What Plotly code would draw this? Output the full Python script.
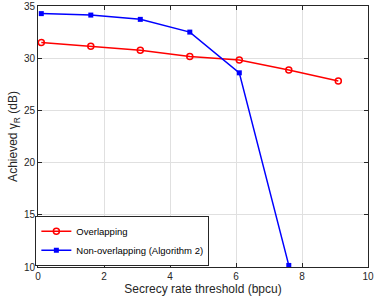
import plotly.graph_objects as go

x_thr = [0.1, 1.6, 3.1, 4.6, 6.1, 7.6, 9.1]
overlap = [31.5, 31.15, 30.77, 30.17, 29.82, 28.87, 27.82]
x_non = [0.1, 1.6, 3.1, 4.6, 6.1, 7.6]
non_overlap = [34.27, 34.13, 33.72, 32.5, 28.6, 10.15]

x_ticks = [0, 2, 4, 6, 8, 10]
y_ticks = [10, 15, 20, 25, 30, 35]

font = "Liberation Sans, Arial, sans-serif"
tc = "#262626"

fig = go.Figure()
fig.add_trace(go.Scatter(x=x_thr, y=overlap, mode="lines+markers", name="Overlapping",
                         line=dict(color="#ff0000", width=1.5),
                         marker=dict(symbol="circle-open", size=6, color="#ff0000", line=dict(width=1.5))))
fig.add_trace(go.Scatter(x=x_non, y=non_overlap, mode="lines+markers", name="Non-overlapping (Algorithm 2)",
                         line=dict(color="#0000ff", width=1.5),
                         marker=dict(symbol="square", size=5, color="#0000ff")))

axis_common = dict(showgrid=True, gridcolor="#e0e0e0", gridwidth=1, zeroline=False,
                   showline=True, linecolor=tc, linewidth=1, mirror="ticks", automargin=False,
                   ticks="inside", ticklen=4, tickcolor=tc, tickfont=dict(family=font, size=10, color=tc))

fig.update_layout(
    width=374, height=301,
    margin=dict(l=38, r=6, t=6, b=34),
    paper_bgcolor="white", plot_bgcolor="white",
    font=dict(family=font, size=10, color=tc),
    showlegend=True,
    legend=dict(x=-0.008, y=0.005, xanchor="left", yanchor="bottom",
                bgcolor="white", bordercolor=tc, borderwidth=1,
                font=dict(family=font, size=9.5, color="#000000"),
                tracegroupgap=0, itemwidth=30),
    xaxis=dict(range=[0, 10], tickvals=x_ticks, ticktext=[str(v) for v in x_ticks],
               title=dict(text="Secrecy rate threshold (bpcu)", font=dict(family=font, size=12, color=tc), standoff=3),
               **axis_common),
    yaxis=dict(range=[10, 35], tickvals=y_ticks, ticktext=[str(v) for v in y_ticks],
               title=dict(text="Achieved γ<sub>R</sub> (dB)", font=dict(family=font, size=12, color=tc), standoff=3),
               **axis_common),
)

fig.write_html("out.html", config={"displayModeBar": False},
               post_script="document.body.style.margin='0';document.body.style.overflow='hidden';")
